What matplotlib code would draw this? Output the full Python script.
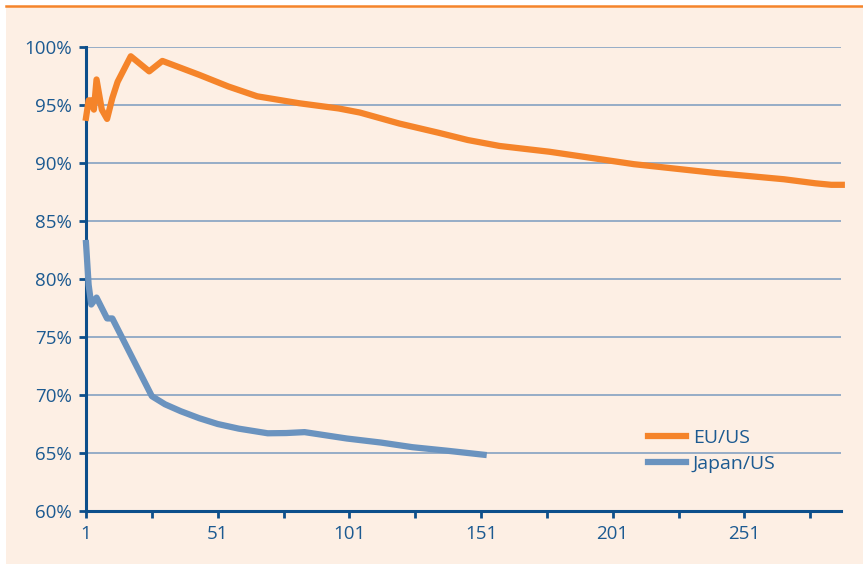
import matplotlib
matplotlib.use("Agg")
import matplotlib.pyplot as plt
from matplotlib.patches import Rectangle
from matplotlib.lines import Line2D
from matplotlib.ticker import FixedLocator, FuncFormatter

# EU/US ratio (%) by period index
eu_x = [1, 2, 3, 4, 5, 7, 9, 11, 13, 18, 25, 30, 44, 55, 66, 82, 97, 105,
        120, 135, 146, 158, 177, 209, 240, 266, 278, 284, 288]
eu_y = [93.9, 95.4, 95.4, 94.6, 97.2, 94.6, 93.8, 95.6, 97.0, 99.2, 97.9, 98.8,
        97.6, 96.6, 95.75, 95.15, 94.7, 94.35, 93.4, 92.6, 91.98, 91.47, 90.97,
        89.9, 89.14, 88.6, 88.25, 88.12, 88.12]

# Japan/US ratio (%) by period index
jp_x = [1, 2, 3, 5, 9, 11, 26, 31, 37, 44, 51, 59, 70, 77, 84, 100, 113, 125, 138, 152]
jp_y = [83.1, 79.5, 77.8, 78.4, 76.6, 76.6, 69.9, 69.2, 68.6, 68.0, 67.5, 67.1,
        66.7, 66.72, 66.8, 66.25, 65.9, 65.5, 65.2, 64.85]

x_ticks = [1, 26, 51, 76, 101, 126, 151, 176, 201, 226, 251, 276]
x_labels = ["1", "", "51", "", "101", "", "151", "", "201", "", "251", ""]
y_ticks = [60, 65, 70, 75, 80, 85, 90, 95, 100]

ORANGE = "#f5842a"
BLUE_LINE = "#6a93bf"
PEACH = "#fdefe4"
GRID = "#7a9bbf"
NAVY = "#0d4f8b"
TEXT = "#1c5a91"

plt.rcParams["font.family"] = ["Open Sans", "DejaVu Sans"]

W, H = 863, 564
fig = plt.figure(figsize=(W / 100, H / 100), dpi=100, facecolor="white")

# panel background and top rule
fig.patches.append(Rectangle((6 / W, 0), 1 - 6 / W, 1 - 6 / H,
                             transform=fig.transFigure, facecolor=PEACH,
                             edgecolor="none", zorder=-10))
fig.lines.append(Line2D([6 / W, 1], [1 - 6 / H, 1 - 6 / H],
                        transform=fig.transFigure, color=ORANGE, lw=1.8))

left, right = 86 / W, 841 / W
bottom, top = 1 - 511 / H, 1 - 47 / H
ax = fig.add_axes([left, bottom, right - left, top - bottom])
ax.set_facecolor("none")

ax.plot(eu_x, eu_y, color=ORANGE, lw=4.5, solid_joinstyle="round",
        label="EU/US", clip_on=False, zorder=3)
ax.plot(jp_x, jp_y, color=BLUE_LINE, lw=4.5, solid_joinstyle="round",
        label="Japan/US", clip_on=False, zorder=3)

ax.set_xlim(1, 287.7)
ax.set_ylim(60, 100)

ax.xaxis.set_major_locator(FixedLocator(x_ticks))
ax.set_xticklabels(x_labels)
ax.yaxis.set_major_locator(FixedLocator(y_ticks))
ax.yaxis.set_major_formatter(FuncFormatter(lambda v, p: f"{v:.0f}%"))

ax.grid(axis="y", color=GRID, lw=1.1)
ax.set_axisbelow(True)

for s in ("top", "right"):
    ax.spines[s].set_visible(False)
for s in ("left", "bottom"):
    ax.spines[s].set_color(NAVY)
    ax.spines[s].set_linewidth(2.2)

ax.tick_params(axis="x", direction="out", length=5, width=2, color=NAVY,
               labelsize=13.5, labelcolor=TEXT, pad=5)
ax.tick_params(axis="y", direction="out", length=5, width=2, color=NAVY,
               labelsize=13.5, labelcolor=TEXT, pad=5)

leg = ax.legend(loc="center left",
                bbox_to_anchor=(648 / W, 1 - 451 / H),
                bbox_transform=fig.transFigure,
                frameon=False, fontsize=14, handlelength=1.95,
                handletextpad=0.35, labelspacing=0.4, borderpad=0,
                borderaxespad=0)
for t in leg.get_texts():
    t.set_color(TEXT)
for h in leg.get_lines():
    h.set_linewidth(4.5)

fig.savefig("out.png", dpi=100, facecolor=fig.get_facecolor())
